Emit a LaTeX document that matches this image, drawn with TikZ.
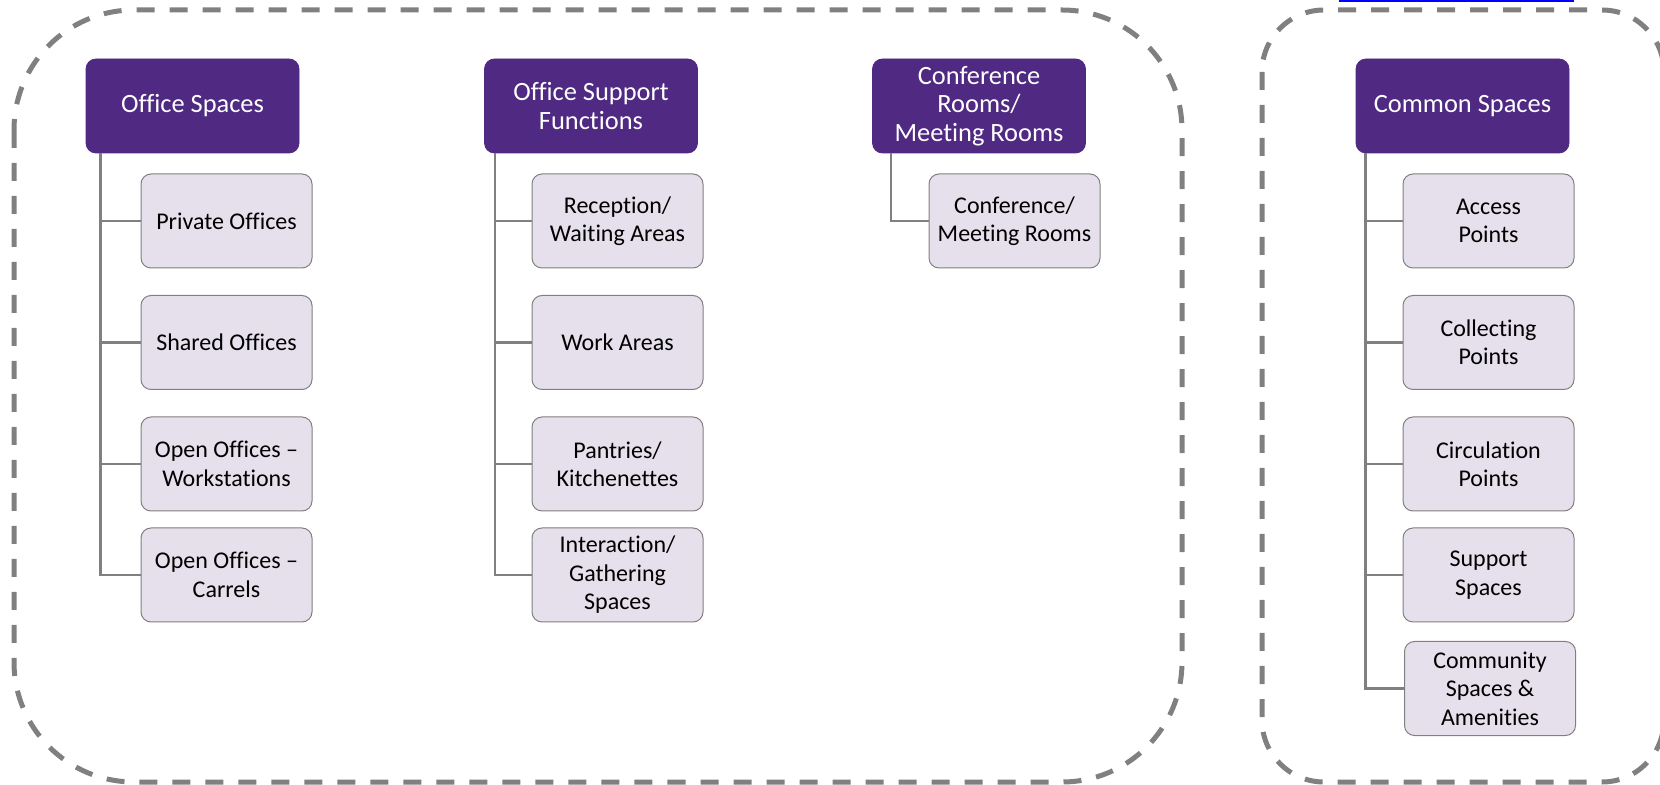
\documentclass[tikz,border=0pt]{standalone}
\usepackage{fontspec}
\setmainfont{Carlito}[Ligatures=NoCommon]
\usetikzlibrary{positioning,calc}
\definecolor{hdrpurple}{RGB}{79,41,130}
\definecolor{itemfill}{RGB}{229,224,236}
\definecolor{linegray}{RGB}{128,128,128}
\tikzset{
  head/.style={
    draw=hdrpurple,
    fill=hdrpurple,
    text=white,
    rounded corners=5pt,
    minimum width=106.5pt,
    minimum height=47pt,
    inner sep=2pt,
    align=center,
    font=\fontsize{13.2}{14.3}\selectfont,
  },
  item/.style={
    draw=linegray,
    line width=0.5pt,
    fill=itemfill,
    rounded corners=5pt,
    minimum width=85.5pt,
    minimum height=47pt,
    inner sep=2pt,
    align=center,
    font=\fontsize{12}{14.2}\selectfont,
  },
  link/.style={draw=linegray, line width=1.2pt},
  zone/.style={draw=linegray, line width=2.5pt, dash pattern=on 9pt off 7.5pt},
}
\begin{document}
\begin{tikzpicture}[x=0.5pt, y=-0.5pt]
        \useasboundingbox (0,0) rectangle (1660,785);

        % dashed groups
        \draw [zone, rounded corners=60pt] (14,10) rectangle (1182,782);
        \draw [zone, rounded corners=31pt] (1262,10) rectangle (1664,782);
        \fill [blue] (1339,0) rectangle (1574,2);

        % office spaces
        \node (off) [head] at (192.5,106) {Office Spaces};
        \node (off1) [item] at (226.5,221) {Private Offices};
        \node (off2) [item] at (226.5,342.5) {Shared Offices};
        \node (off3) [item] at (226.5,464) {Open Offices –\\Workstations};
        \node (off4) [item] at (226.5,575) {Open Offices –\\Carrels};

        % office support functions
        \node (sup) [head] at (591,106) {Office Support\\Functions};
        \node (sup1) [item] at (617.5,221) {Reception/\\Waiting Areas};
        \node (sup2) [item] at (617.5,342.5) {Work Areas};
        \node (sup3) [item] at (617.5,464) {Pantries/\\Kitchenettes};
        \node (sup4) [item] at (617.5,575) {Interaction/\\Gathering\\Spaces};

        % conference rooms
        \node (conf) [head] at (979,106) {Conference\\Rooms/\\Meeting Rooms};
        \node (conf1) [item] at (1014.5,221) {Conference/\\Meeting Rooms};

        % common spaces
        \node (com) [head] at (1462.5,106) {Common Spaces};
        \node (com1) [item] at (1488.5,221) {Access\\Points};
        \node (com2) [item] at (1488.5,342.5) {Collecting\\Points};
        \node (com3) [item] at (1488.5,464) {Circulation\\Points};
        \node (com4) [item] at (1488.5,575) {Support\\Spaces};
        \node (com5) [item] at (1490,688.5) {Community\\Spaces \&\\Amenities};

        \draw [link] ([xshift=7.5pt]off.south west) |- (off1.west);
        \draw [link] ([xshift=7.5pt]off.south west) |- (off2.west);
        \draw [link] ([xshift=7.5pt]off.south west) |- (off3.west);
        \draw [link] ([xshift=7.5pt]off.south west) |- (off4.west);

        \draw [link] ([xshift=5.5pt]sup.south west) |- (sup1.west);
        \draw [link] ([xshift=5.5pt]sup.south west) |- (sup2.west);
        \draw [link] ([xshift=5.5pt]sup.south west) |- (sup3.west);
        \draw [link] ([xshift=5.5pt]sup.south west) |- (sup4.west);

        \draw [link] ([xshift=9.5pt]conf.south west) |- (conf1.west);

        \draw [link] ([xshift=5pt]com.south west) |- (com1.west);
        \draw [link] ([xshift=5pt]com.south west) |- (com2.west);
        \draw [link] ([xshift=5pt]com.south west) |- (com3.west);
        \draw [link] ([xshift=5pt]com.south west) |- (com4.west);
        \draw [link] ([xshift=5pt]com.south west) |- (com5.west);
\end{tikzpicture}
\end{document}
